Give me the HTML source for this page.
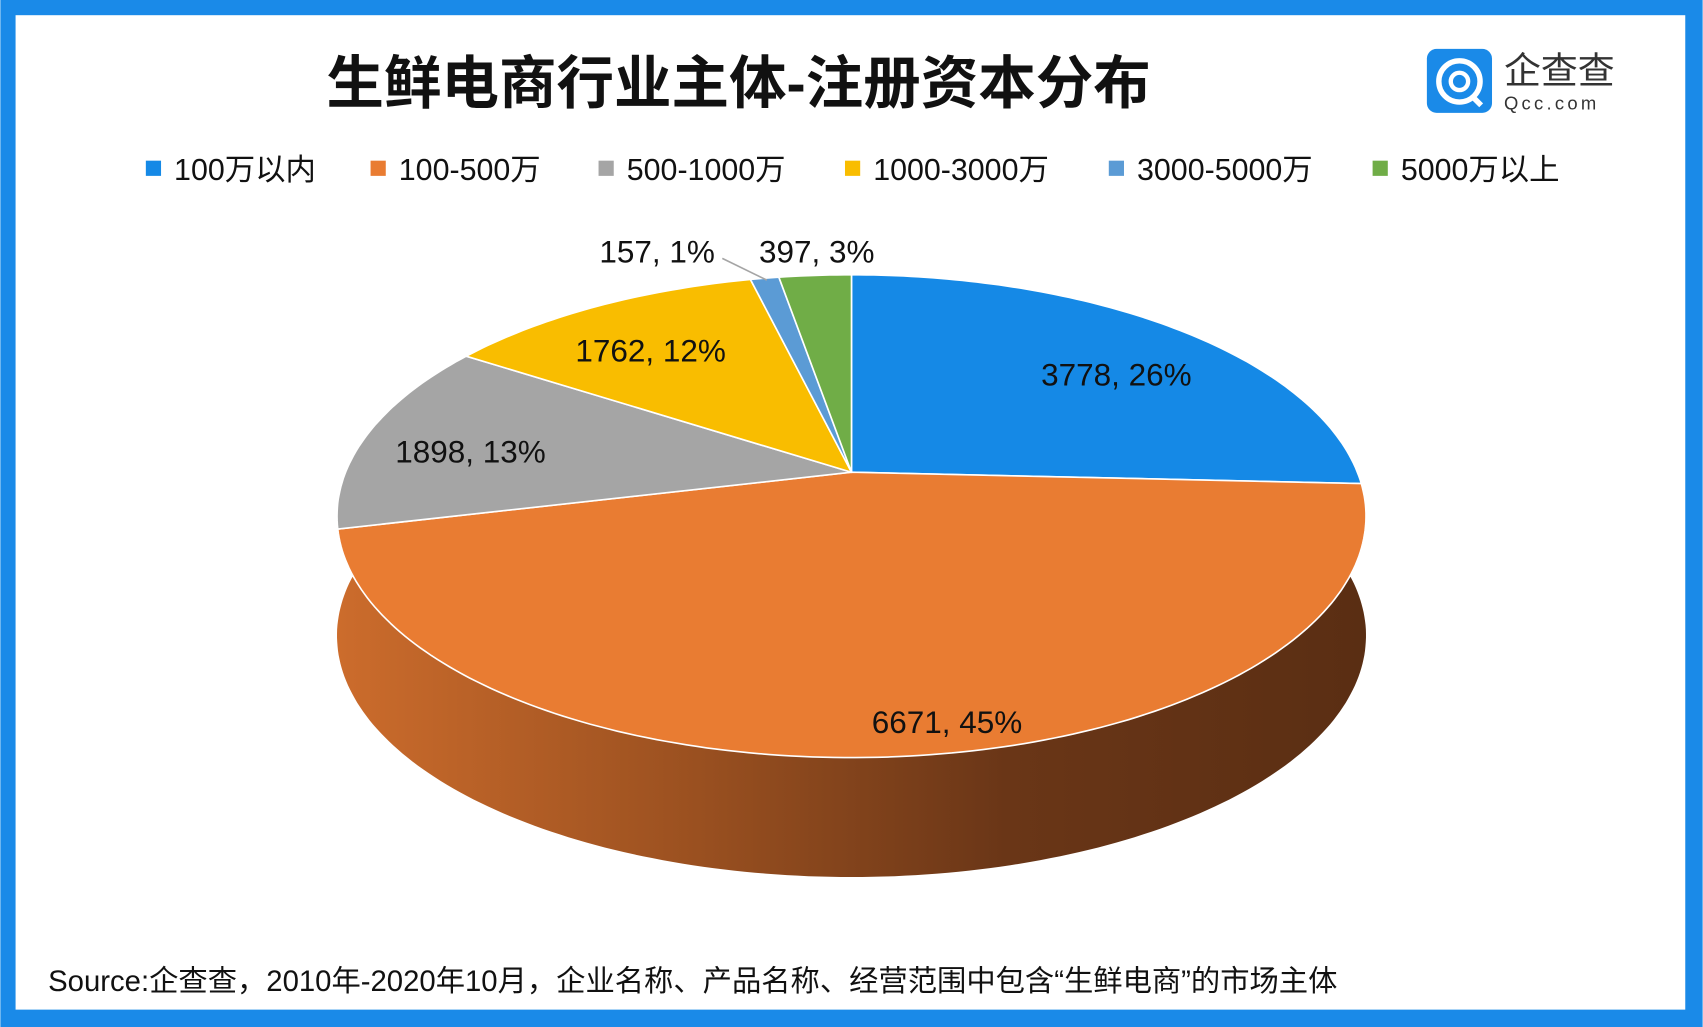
<!DOCTYPE html>
<html><head><meta charset="utf-8"><style>
html,body{margin:0;padding:0;background:#fff;}
svg{display:block;}
text{font-family:"Liberation Sans","Noto Sans CJK SC",sans-serif;}
</style></head><body>
<svg id="chart" width="1703" height="1027" viewBox="0 0 1568 946" xmlns="http://www.w3.org/2000/svg">
<defs>
<linearGradient id="sideGrad" x1="310" y1="0" x2="1258" y2="0" gradientUnits="userSpaceOnUse">
<stop offset="0" stop-color="#cc6c2c"/><stop offset="0.35" stop-color="#9a5020"/><stop offset="0.65" stop-color="#6a3617"/><stop offset="1" stop-color="#5a2e13"/>
</linearGradient>
</defs>
<rect x="0" y="0" width="1568" height="946" fill="#1a8ae8"/>
<rect x="14" y="14" width="1538" height="916" fill="#ffffff"/>
<text x="680" y="95" text-anchor="middle" font-size="53" font-weight="bold" fill="#111">生鲜电商行业主体-注册资本分布</text>
<g>
<rect x="1314" y="45" width="60" height="59" rx="9" fill="#1a8ae8"/>
<circle cx="1344" cy="75" r="19" fill="none" stroke="#fff" stroke-width="5"/>
<circle cx="1344" cy="75" r="8" fill="none" stroke="#fff" stroke-width="4"/>
<line x1="1355" y1="88" x2="1364" y2="97" stroke="#fff" stroke-width="5"/>
<text x="1385" y="77" font-size="34" fill="#333">企查查</text>
<text x="1385" y="101" font-size="17" fill="#333" letter-spacing="3">Qcc.com</text>
</g>
<g id="legend"></g>
<g id="pie"></g>
<g id="labels"></g>
<line x1="665" y1="238" x2="706" y2="258" stroke="#a5a5a5" stroke-width="1.5"/>
<text x="44" y="913" font-size="27" fill="#111">Source:企查查，2010年-2020年10月，企业名称、产品名称、经营范围中包含“生鲜电商”的市场主体</text>
</svg>
<script>
const categories = ["100万以内","100-500万","500-1000万","1000-3000万","3000-5000万","5000万以上"];
const values = [3778, 6671, 1898, 1762, 157, 397];
const percents = ["26%","45%","13%","12%","1%","3%"];
const colors = ["#1589e6","#e97c32","#a5a5a5","#f9bd00","#5b9bd5","#70ad47"];
const legendX = [134, 341, 551, 778, 1021, 1264];
const labelPos = [[1028,355],[872,675],[433,426],[599,333],[605,242],[752,242]];

const NS = "http://www.w3.org/2000/svg";
const pcx = 784, pcy = 435, prx = 466, pry = 215, pk = 0.182, pdepth = 110;
function proj(theta){
  const u = Math.sin(theta), v = -Math.cos(theta);
  const d = 1 - pk*v;
  return [pcx + prx*u/d, pcy + pry*v/d];
}
function mk(tag, attrs){ const e=document.createElementNS(NS,tag); for(const a in attrs) e.setAttribute(a,attrs[a]); return e; }

const lg = document.getElementById('legend');
categories.forEach((c,i)=>{
  const r = mk('rect',{x:legendX[i],y:148,width:14,height:14,fill:colors[i]});
  
  
  lg.appendChild(r);
  const t = mk('text',{x:legendX[i]+26,y:166,'font-size':28,fill:'#111'});
  
  
  t.textContent = c;
  lg.appendChild(t);
});

const pieG = document.getElementById('pie');
const topPts=[], botPts=[];
for(let a=60;a<=300;a+=1){ const p=proj(a*Math.PI/180); topPts.push(p); botPts.push([p[0],p[1]+pdepth]); }
const dside = "M"+topPts.map(p=>p[0].toFixed(1)+","+p[1].toFixed(1)).join(" L")+" L"+botPts.reverse().map(p=>p[0].toFixed(1)+","+p[1].toFixed(1)).join(" L")+" Z";
const side = mk('path',{d:dside,fill:'url(#sideGrad)'});


pieG.appendChild(side);

const total = values.reduce((a,b)=>a+b,0);
let acc = 0;
values.forEach((v,i)=>{
  const a0 = acc/total*2*Math.PI; acc += v; const a1 = acc/total*2*Math.PI;
  const n = Math.max(2, Math.ceil((a1-a0)*180/Math.PI));
  const pts=[];
  for(let j=0;j<=n;j++){ pts.push(proj(a0+(a1-a0)*j/n)); }
  const d = "M"+pcx+","+pcy+" L"+pts.map(p=>p[0].toFixed(1)+","+p[1].toFixed(1)).join(" L")+" Z";
  const s = mk('path',{d:d,fill:colors[i],stroke:'#fff','stroke-width':1.5,'stroke-linejoin':'round'});
  
  
  pieG.appendChild(s);
});

const lb = document.getElementById('labels');
values.forEach((v,i)=>{
  const t = mk('text',{x:labelPos[i][0],y:labelPos[i][1],'text-anchor':'middle','font-size':29,fill:'#111'});
  
  
  t.textContent = v+", "+percents[i];
  lb.appendChild(t);
});
</script>
</body></html>
